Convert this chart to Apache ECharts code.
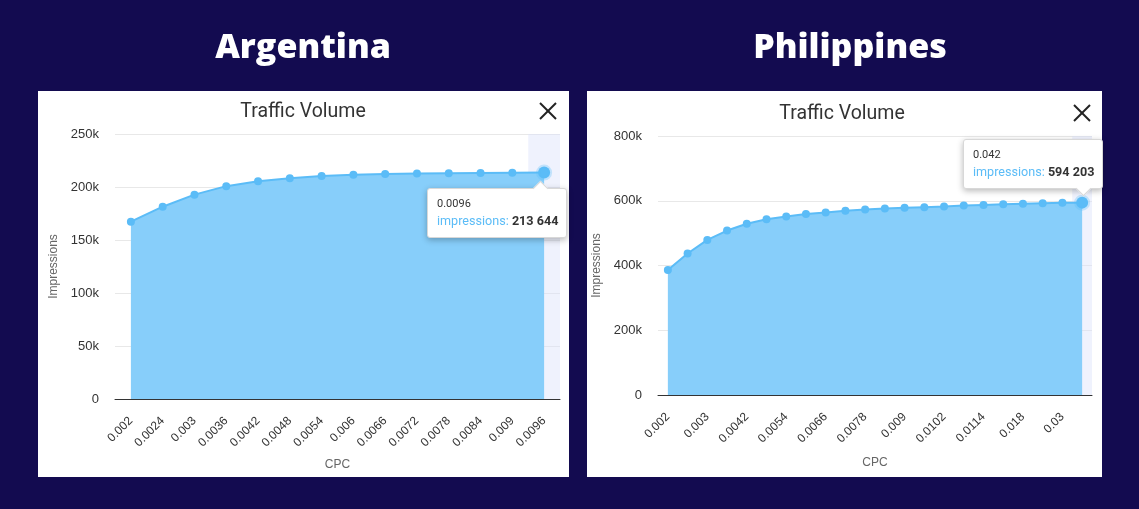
<!DOCTYPE html>
<html>
<head>
<meta charset="utf-8">
<script src="https://cdn.jsdelivr.net/npm/echarts@6/dist/echarts.min.js"></script>
<style>
  html, body { margin: 0; padding: 0; width: 1139px; height: 509px; background: #130b50; overflow: hidden; }
  #left { position: absolute; left: 0; top: 0; width: 569px; height: 509px; }
  #right { position: absolute; left: 569px; top: 0; width: 570px; height: 509px; }
</style>
</head>
<body>
<div id="left"></div>
<div id="right"></div>
<script>
// ---- data ----
const argTitle = 'Argentina';
const argCategories = ['0.002','0.0024','0.003','0.0036','0.0042','0.0048','0.0054','0.006','0.0066','0.0072','0.0078','0.0084','0.009','0.0096'];
const argImpressions = [167300,181400,192800,200800,205500,208300,210400,211600,212200,212700,213000,213200,213400,213644];
const argYTicks = { max: 250000, interval: 50000 };

const phTitle = 'Philippines';
const phCategories = ['0.002','0.0024','0.003','0.0036','0.0042','0.0048','0.0054','0.006','0.0066','0.0072','0.0078','0.0084','0.009','0.0096','0.0102','0.0108','0.0114','0.012','0.018','0.024','0.03','0.042'];
const phImpressions = [386000,437000,479000,508000,529000,543000,551000,559000,564000,569000,573000,576000,578000,580000,582000,585000,587000,589000,591000,592500,593500,594203];
const phYTicks = { max: 800000, interval: 200000 };

const chartTitle = 'Traffic Volume';
const seriesName = 'impressions';

const LINE = '#5bbcf7';
const AREA = '#87cefa';

function fmtSpace(v) {
  return String(Math.round(v)).replace(/\B(?=(\d{3})+(?!\d))/g, ' ');
}

function tooltipHtml(cat, val, arrowTop, arrowRight) {
  const arrowCss = arrowTop
    ? 'top:-6px;border-left:1px solid #d8d8d8;border-top:1px solid #d8d8d8;'
    : 'bottom:-6px;border-right:1px solid #d8d8d8;border-bottom:1px solid #d8d8d8;';
  return '<div style="font-family:Roboto,sans-serif;line-height:16px;">' +
    '<div style="font-size:11px;color:#333;">' + cat + '</div>' +
    '<div style="font-size:12.6px;margin-top:1px;"><span style="color:' + LINE + ';">' + seriesName + ':</span> ' +
    '<b style="color:#333;">' + fmtSpace(val) + '</b></div>' +
    '<div style="position:absolute;right:' + arrowRight + 'px;width:10px;height:10px;background:#fff;transform:rotate(45deg);' + arrowCss + '"></div>' +
    '</div>';
}

function closeIcon(cx, cy) {
  const s = 8;
  return {
    type: 'group',
    children: [
      { type: 'line', shape: { x1: cx - s, y1: cy - s, x2: cx + s, y2: cy + s }, style: { stroke: '#222', lineWidth: 2 } },
      { type: 'line', shape: { x1: cx + s, y1: cy - s, x2: cx - s, y2: cy + s }, style: { stroke: '#222', lineWidth: 2 } }
    ]
  };
}

function buildOption(cfg) {
  return {
    animation: false,
    backgroundColor: '#130b50',
    graphic: [
      { type: 'rect', shape: { x: cfg.panel[0], y: cfg.panel[1], width: cfg.panel[2], height: cfg.panel[3] }, style: { fill: '#ffffff' }, z: -10 },
      { type: 'text', x: cfg.headX, y: 48, style: { text: cfg.heading, fill: '#ffffff', font: '800 34px "Open Sans", sans-serif', textAlign: 'center', textVerticalAlign: 'middle' } },
      { type: 'text', x: cfg.titleX, y: cfg.titleY, style: { text: chartTitle, fill: '#333333', font: '19.5px Roboto, sans-serif', textAlign: 'center', textVerticalAlign: 'middle' } },
      closeIcon(cfg.closeX, cfg.closeY)
    ],
    grid: cfg.grid,
    tooltip: {
      trigger: 'axis',
      triggerOn: 'none',
      alwaysShowContent: true,
      transitionDuration: 0,
      backgroundColor: '#ffffff',
      borderColor: '#d8d8d8',
      borderWidth: 1,
      padding: [7, 8, 8, 9],
      extraCssText: 'box-shadow: 0 2px 6px rgba(0,0,0,0.28); border-radius: 3px;',
      axisPointer: { type: 'shadow', z: 0, shadowStyle: { color: 'rgba(220,226,250,0.45)' } },
      position: function () { return cfg.tipPos; },
      formatter: function (params) {
        const p = params[0];
        return tooltipHtml(p.name, p.value, cfg.arrowTop, cfg.arrowRight);
      }
    },
    xAxis: {
      type: 'category',
      data: cfg.categories,
      boundaryGap: true,
      name: 'CPC',
      nameLocation: 'middle',
      nameGap: cfg.xNameGap,
      nameTextStyle: { color: '#666', fontSize: 12, fontFamily: 'Liberation Sans, Arial, sans-serif' },
      axisLine: { lineStyle: { color: '#333', width: 1 } },
      axisTick: { show: false },
      axisLabel: { rotate: 45, interval: cfg.labelInterval, color: '#333', fontSize: 12, margin: 20, fontFamily: 'Liberation Sans, Arial, sans-serif' }
    },
    yAxis: {
      type: 'value',
      min: 0,
      max: cfg.yTicks.max,
      interval: cfg.yTicks.interval,
      name: 'Impressions',
      nameLocation: 'middle',
      nameGap: 48,
      nameTextStyle: { color: '#666', fontSize: 12, fontFamily: 'Liberation Sans, Arial, sans-serif' },
      axisLine: { show: false },
      axisTick: { show: false },
      splitLine: { lineStyle: { color: '#e8e8e8' } },
      axisLabel: {
        color: '#333', fontSize: 13, margin: 16, fontFamily: 'Liberation Sans, Arial, sans-serif',
        formatter: function (v) { return v === 0 ? '0' : (v / 1000) + 'k'; }
      }
    },
    series: [{
      name: seriesName,
      type: 'line',
      z: 5,
      data: cfg.values,
      symbol: 'circle',
      symbolSize: 8,
      lineStyle: { color: LINE, width: 2 },
      itemStyle: { color: LINE },
      areaStyle: { color: AREA, opacity: 1 },
      emphasis: {
        scale: 1.5,
        lineStyle: { color: LINE, width: 2 },
        areaStyle: { color: AREA, opacity: 1 },
        itemStyle: { color: LINE, borderColor: 'rgba(91,188,247,0.3)', borderWidth: 4 }
      }
    }]
  };
}

const leftChart = echarts.init(document.getElementById('left'));
leftChart.setOption(buildOption({
  panel: [38, 91, 531, 386],
  heading: argTitle, headX: 303,
  titleX: 303, titleY: 112,
  closeX: 548, closeY: 111,
  grid: { left: 115, right: 9, top: 134, bottom: 110 },
  categories: argCategories, values: argImpressions, yTicks: argYTicks,
  labelInterval: 0, xNameGap: 60,
  tipPos: [427, 188], arrowTop: true, arrowRight: 20
}));

const rightChart = echarts.init(document.getElementById('right'));
rightChart.setOption(buildOption({
  panel: [18, 91, 515, 386],
  heading: phTitle, headX: 281,
  titleX: 273, titleY: 114,
  closeX: 513, closeY: 113,
  grid: { left: 89, right: 47, top: 136, bottom: 114 },
  categories: phCategories, values: phImpressions, yTicks: phYTicks,
  labelInterval: 1, xNameGap: 62,
  tipPos: [394, 139], arrowTop: false, arrowRight: 13
}));

setTimeout(function () {
  leftChart.dispatchAction({ type: 'showTip', seriesIndex: 0, dataIndex: argImpressions.length - 1 });
  rightChart.dispatchAction({ type: 'showTip', seriesIndex: 0, dataIndex: phImpressions.length - 1 });
}, 50);
</script>
</body>
</html>
